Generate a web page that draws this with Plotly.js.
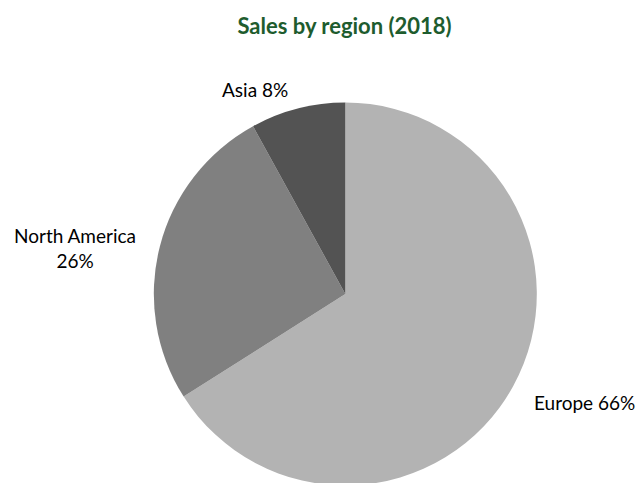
<!DOCTYPE html>
<html>
<head>
<meta charset="utf-8">
<script src="https://cdn.plot.ly/plotly-3.0.1.min.js"></script>
<style>html,body{margin:0;padding:0;background:#fff;overflow:hidden;}#chart{width:638px;height:487px;}</style>
</head>
<body>
<div id="chart"></div>
<script>
const regions = ["Europe", "North America", "Asia"];
const shares = [66, 26, 8];
const sliceColors = ["#b3b3b3", "#808080", "#535353"];
const labelBreaks = [" ", "<br>", " "];

// label placement (layout only, paper fractions)
const labelX = [0.9169, 0.1176, 0.4003];
const labelY = [0.1745, 0.4908, 0.8172];

const labelFont = { family: "Lato, 'Open Sans', sans-serif", size: 19, color: "#000" };

const trace = {
  type: "pie",
  labels: regions,
  values: shares,
  textinfo: "none",
  sort: false,
  direction: "clockwise",
  rotation: 0,
  marker: { colors: sliceColors, line: { width: 0 } },
  domain: { x: [0.2411, 0.8414], y: [0.0031, 0.7895] },
  hoverinfo: "label+percent",
  showlegend: false
};

const annotations = regions.map((r, i) => ({
  text: r + labelBreaks[i] + shares[i] + "%",
  xref: "paper", yref: "paper",
  x: labelX[i], y: labelY[i],
  xanchor: "center", yanchor: "middle",
  showarrow: false,
  align: "center",
  font: labelFont
}));

const layout = {
  width: 638,
  height: 487,
  margin: { l: 0, r: 0, t: 0, b: 0 },
  paper_bgcolor: "#fff",
  title: {
    text: "<b>Sales by region (2018)</b>",
    font: { family: "Lato, 'Open Sans', sans-serif", size: 22, color: "#1e5c2e" },
    x: 0.54, xanchor: "center",
    y: 0.9456, yanchor: "middle"
  },
  annotations: annotations,
  showlegend: false
};

Plotly.newPlot("chart", [trace], layout, { displayModeBar: false, staticPlot: true });
</script>
</body>
</html>
